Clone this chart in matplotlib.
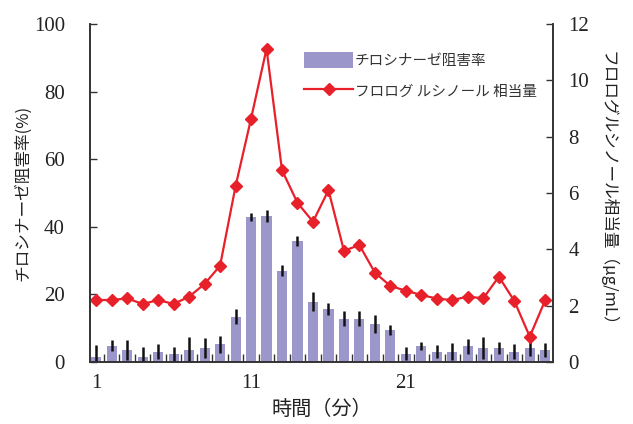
import matplotlib
matplotlib.use("Agg")
import matplotlib.pyplot as plt
from matplotlib.ticker import MultipleLocator, FixedLocator

# Sampling times (minutes)
minutes = list(range(1, 31))

# Tyrosinase inhibition (%) with standard deviation
inhibition = [1.6, 4.8, 3.5, 1.6, 3.0, 2.4, 3.5, 4.1, 5.3, 13.4,
              42.9, 43.2, 27.0, 35.8, 17.8, 15.7, 12.8, 12.8, 11.2, 9.5,
              2.4, 4.7, 3.0, 3.0, 4.7, 4.1, 4.1, 3.0, 4.1, 3.5]
inhibition_sd = [3.4, 1.6, 3.0, 2.8, 2.2, 2.1, 4.0, 3.0, 2.5, 2.3,
                 1.3, 1.9, 1.6, 1.6, 2.8, 1.9, 2.2, 2.2, 2.7, 1.4,
                 1.9, 1.1, 1.9, 2.5, 2.2, 3.3, 1.8, 2.2, 2.4, 2.0]

# Phloroglucinol equivalents (ug/mL)
phloro = [2.2, 2.2, 2.26, 2.06, 2.2, 2.06, 2.32, 2.77, 3.42, 6.24,
          8.64, 11.12, 6.81, 5.65, 4.98, 6.1, 3.95, 4.15, 3.17, 2.7,
          2.53, 2.38, 2.25, 2.2, 2.32, 2.26, 3.03, 2.17, 0.9, 2.2]

xtick_labels = ["1", "11", "21"]

bar_color = "#9c97ca"
line_color = "#e8202a"
spine_color = "#333333"
cjk = ["Noto Sans CJK JP", "DejaVu Sans"]
num_font = "Liberation Serif"

fig = plt.figure(figsize=(6.33, 4.24), dpi=100)
ax = fig.add_axes([90 / 633, 1 - 362 / 424, 463 / 633, 338 / 424])
ax2 = ax.twinx()

bars = ax.bar(minutes, inhibition, width=0.65, color=bar_color, zorder=2,
              label="チロシナーゼ阻害率")
ax.errorbar(minutes, inhibition, yerr=inhibition_sd, fmt="none",
            ecolor="#111111", elinewidth=1.8, capsize=0, zorder=3)

line, = ax2.plot(minutes, phloro, color=line_color, lw=1.6, marker="D",
                 markersize=6, markerfacecolor=line_color,
                 markeredgecolor=line_color,
                 label="フロログ ルシノール 相当量")

ax.set_xlim(0.6, 30.5)
ax.set_ylim(0, 100)
ax2.set_ylim(0, 12)

ax.xaxis.set_major_locator(FixedLocator([1, 11, 21]))
ax.set_xticklabels(xtick_labels)
ax.xaxis.set_minor_locator(FixedLocator([m + 0.5 for m in minutes[:-1]]))
ax.yaxis.set_major_locator(MultipleLocator(20))
ax2.yaxis.set_major_locator(MultipleLocator(2))

for a in (ax, ax2):
    a.spines["top"].set_visible(False)
    for s in ("left", "right", "bottom"):
        a.spines[s].set_color(spine_color)
        a.spines[s].set_linewidth(1.2)

ax.tick_params(axis="x", which="major", direction="in", length=0, pad=9,
               labelsize=15, colors=spine_color)
ax.tick_params(axis="x", which="minor", direction="in", length=6,
               width=1, color="#333333")
ax.tick_params(axis="y", direction="in", length=5, width=1,
               labelsize=15, pad=18, colors=spine_color)
ax2.tick_params(axis="y", direction="in", length=5, width=1,
                labelsize=15, pad=11, colors=spine_color)
for lab in ax.get_xticklabels() + ax.get_yticklabels() + ax2.get_yticklabels():
    lab.set_fontfamily(num_font)
    lab.set_color("#222222")

ax.set_xlabel("時間（分）", fontsize=14.5, family=cjk, color="#222222",
              labelpad=4)
ax.set_ylabel("チロシナーゼ阻害率(%)", fontsize=12, family=cjk,
              color="#222222", labelpad=2)
ax2.set_ylabel("フロログルシノール相当量（μg/mL）", fontsize=12, family=cjk,
               color="#222222", rotation=270, labelpad=20)

ax.set_zorder(ax2.get_zorder() - 1)
ax2.patch.set_visible(False)

leg = ax2.legend([bars, line], [bars.get_label(), line.get_label()],
                 loc="upper left", bbox_to_anchor=(208 / 463, 0.935),
                 frameon=False, prop={"family": cjk, "size": 10.5},
                 handlelength=3.4, handleheight=1.3, handletextpad=0.1,
                 labelspacing=1.05, borderaxespad=0)
for t in leg.get_texts():
    t.set_color("#333333")

fig.savefig("out.png", dpi=100)
